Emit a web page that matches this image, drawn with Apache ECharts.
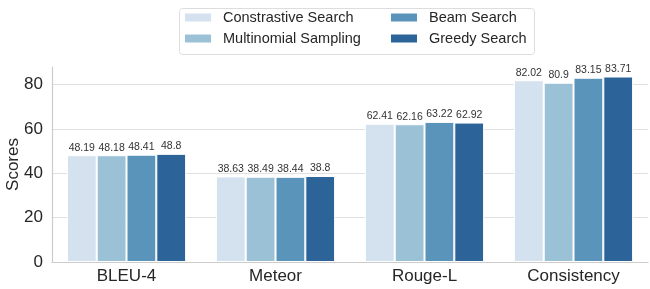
<!DOCTYPE html>
<html>
<head>
<meta charset="utf-8">
<script src="https://cdn.jsdelivr.net/npm/echarts@6/dist/echarts.min.js"></script>
<style>
html, body { margin: 0; padding: 0; background: #fff; }
#main { width: 650px; height: 289px; }
</style>
</head>
<body>
<div id="main"></div>
<script>
var categories = ['BLEU-4', 'Meteor', 'Rouge-L', 'Consistency'];
var seriesNames = ['Constrastive Search', 'Multinomial Sampling', 'Beam Search', 'Greedy Search'];
var contrastive = [48.19, 38.63, 62.41, 82.02];
var multinomial = [48.18, 38.49, 62.16, 80.9];
var beam = [48.41, 38.44, 63.22, 83.15];
var greedy = [48.8, 38.8, 62.92, 83.71];
var colors = ['#d4e1ee', '#9bc1d6', '#5b94bb', '#2c6499'];

var myChart = echarts.init(document.getElementById('main'), null, { renderer: 'canvas' });
var font = 'Liberation Sans, Arial, sans-serif';

function makeSeries(name, data, color) {
    return {
        name: name,
        type: 'bar',
        data: data,
        barGap: '0%',
        barCategoryGap: '20%',
        itemStyle: { color: color, borderColor: '#fff', borderWidth: 1 },
        label: {
            show: true,
            position: 'top',
            distance: 2,
            color: '#333',
            fontSize: 10.5,
            fontFamily: font
        }
    };
}

// legend laid out as two columns, with one shared frame
var legendText = { fontSize: 14.5, color: '#262626', fontFamily: font, padding: [0, 0, 0, 6] };
var legendBase = {
    orient: 'vertical',
    top: 10,
    padding: 0,
    itemGap: 6,
    itemWidth: 28,
    itemHeight: 10,
    icon: 'rect',
    textStyle: legendText
};

var option = {
    animation: false,
    color: colors,
    legend: [
        Object.assign({}, legendBase, { left: 183, data: seriesNames.slice(0, 2) }),
        Object.assign({}, legendBase, { left: 389, data: seriesNames.slice(2, 4) })
    ],
    graphic: [{
        type: 'rect',
        left: 177,
        top: 6,
        shape: { width: 355, height: 46, r: 3 },
        style: { fill: 'none', stroke: '#dddddd', lineWidth: 1 },
        silent: true
    }],
    grid: { left: 52, right: 2, top: 67, bottom: 27, outerBoundsMode: 'none' },
    xAxis: {
        type: 'category',
        data: categories,
        axisLine: { lineStyle: { color: '#cccccc', width: 1.2 } },
        axisTick: { show: false },
        axisLabel: { fontSize: 17, color: '#262626', fontFamily: font, margin: 6 }
    },
    yAxis: {
        type: 'value',
        min: 0,
        max: 88,
        interval: 20,
        name: 'Scores',
        nameLocation: 'middle',
        nameGap: 30,
        nameMoveOverlap: false,
        nameTextStyle: { fontSize: 17, color: '#262626', fontFamily: font },
        axisLine: { show: true, lineStyle: { color: '#cccccc', width: 1.2 } },
        axisTick: { show: false },
        axisLabel: { fontSize: 17, color: '#262626', fontFamily: font, margin: 9, showMaxLabel: false },
        splitLine: { showMaxLine: false, lineStyle: { color: '#e0e0e0', width: 1 } }
    },
    series: [
        makeSeries(seriesNames[0], contrastive, colors[0]),
        makeSeries(seriesNames[1], multinomial, colors[1]),
        makeSeries(seriesNames[2], beam, colors[2]),
        makeSeries(seriesNames[3], greedy, colors[3])
    ]
};
myChart.setOption(option);
window.addEventListener('resize', myChart.resize);
</script>
</body>
</html>
